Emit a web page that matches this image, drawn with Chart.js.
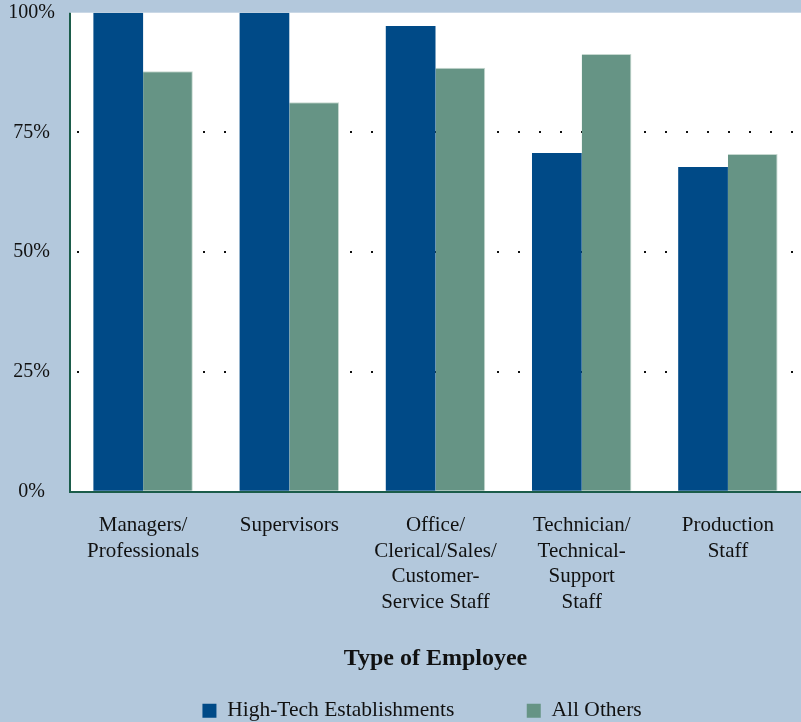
<!DOCTYPE html>
<html>
<head>
<meta charset="utf-8">
<script src="https://cdn.jsdelivr.net/npm/chart.js@4"></script>
<style>
  html, body { margin: 0; padding: 0; background: #b3c8dc; overflow: hidden; }
  #wrap { width: 801px; height: 722px; }
</style>
</head>
<body>
<div id="wrap"><canvas id="c" width="801" height="722"></canvas></div>
<script>
const categories = [
  ["Managers/", "Professionals"],
  ["Supervisors"],
  ["Office/", "Clerical/Sales/", "Customer-", "Service Staff"],
  ["Technician/", "Technical-", "Support", "Staff"],
  ["Production", "Staff"]
];
const highTech = [100, 100, 97.2, 70.7, 67.8];
const allOthers = [87.8, 81.3, 88.5, 91.4, 70.5];
const yTicks = [0, 25, 50, 75, 100];
const seriesNames = ["High-Tech Establishments", "All Others"];

const serif = "'Liberation Serif', 'Times New Roman', serif";
const textColor = '#111111';
const axisGreen = '#1b5c4a';

const plotBg = {
  id: 'plotBg',
  beforeDraw(chart) {
    const { ctx, chartArea: a } = chart;
    ctx.save();
    ctx.fillStyle = '#ffffff';
    ctx.fillRect(a.left, a.top, a.right - a.left, a.bottom - a.top);
    ctx.restore();
  }
};

new Chart(document.getElementById('c'), {
  type: 'bar',
  data: {
    labels: categories,
    datasets: [
      {
        label: seriesNames[0],
        data: highTech,
        backgroundColor: '#004a87',
        borderWidth: 0,
        categoryPercentage: 0.68,
        barPercentage: 1.0
      },
      {
        label: seriesNames[1],
        data: allOthers,
        backgroundColor: '#669485',
        borderColor: '#c6d8d0',
        borderWidth: { top: 1, right: 1, left: 0, bottom: 0 },
        borderSkipped: 'start',
        categoryPercentage: 0.68,
        barPercentage: 1.0
      }
    ]
  },
  options: {
    responsive: false,
    animation: false,
    devicePixelRatio: 1,
    layout: { padding: { top: 0, left: 0, right: 0, bottom: -9.5 } },
    plugins: {
      tooltip: { enabled: false },
      legend: {
        display: true,
        position: 'bottom',
        fullSize: false,
        labels: {
          font: { family: serif, size: 21.5 },
          color: textColor,
          boxWidth: 14,
          boxHeight: 14,
          padding: 24,
          generateLabels(chart) {
            const items = Chart.defaults.plugins.legend.labels.generateLabels(chart);
            items.forEach((it, i) => {
              it.lineWidth = 0;
              it.text = it.text + '\u00A0'.repeat(i === 0 ? 9 : 5);
            });
            return items;
          }
        }
      }
    },
    scales: {
      x: {
        grid: {
          display: true,
          drawTicks: false,
          offset: true,
          lineWidth: 2,
          color: (c) => (c.index === 0 ? axisGreen : 'rgba(0,0,0,0)')
        },
        border: { display: true, color: axisGreen, width: 2 },
        ticks: {
          font: { family: serif, size: 21, lineHeight: 1.22 },
          color: textColor,
          maxRotation: 0,
          autoSkip: false,
          padding: 21
        },
        title: {
          display: true,
          text: 'Type of Employee',
          font: { family: serif, size: 24, weight: 'bold' },
          color: textColor,
          padding: { top: 8, bottom: 3 }
        }
      },
      y: {
        min: 0,
        max: 100,
        afterFit(scale) { scale.width = 70; scale.paddingTop = 12.7; },
        afterBuildTicks(scale) { scale.ticks = yTicks.map(v => ({ value: v })); },
        grid: {
          drawTicks: false,
          color: (c) => (c.tick && c.tick.value > 0 && c.tick.value < 100) ? '#111111' : 'rgba(0,0,0,0)',
          lineWidth: 2
        },
        border: { display: false, dash: [2, 19], dashOffset: 14 },
        ticks: {
          font: { family: serif, size: 20 },
          color: textColor,
          padding: 15,
          crossAlign: 'center',
          callback: (v) => v + '%'
        }
      }
    }
  },
  plugins: [plotBg]
});
</script>
</body>
</html>
